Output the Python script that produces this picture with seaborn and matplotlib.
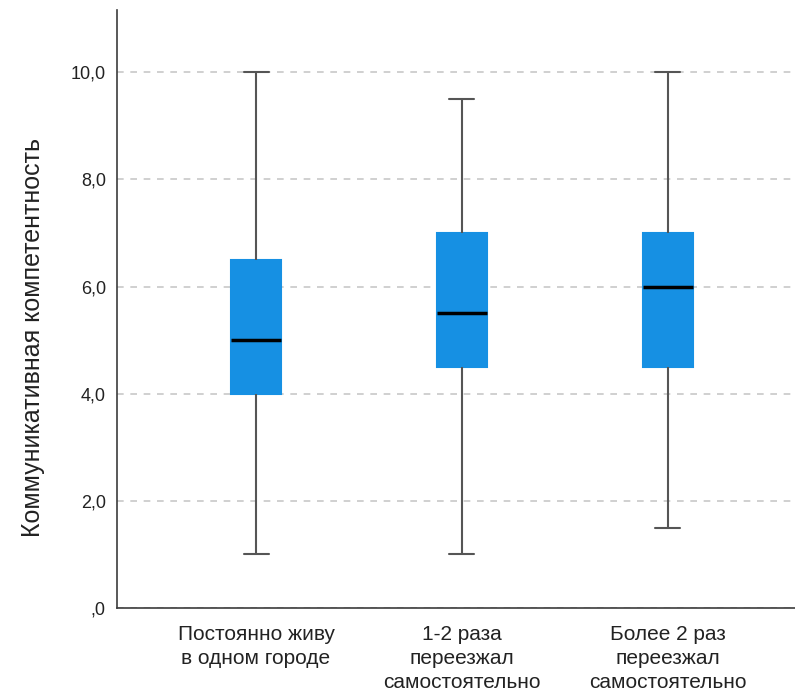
import numpy as np
import pandas as pd
import matplotlib
matplotlib.use("Agg")
import matplotlib.pyplot as plt
import seaborn as sns
from matplotlib.ticker import FuncFormatter

groups = ["Постоянно живу\nв одном городе",
          "1-2 раза\nпереезжал\nсамостоятельно",
          "Более 2 раз\nпереезжал\nсамостоятельно"]
# min, Q1, median, Q3, max
g1 = [1.0, 4.0, 5.0, 6.5, 10.0]
g2 = [1.0, 4.5, 5.5, 7.0, 9.5]
g3 = [1.5, 4.5, 6.0, 7.0, 10.0]
y_ticks = [0, 2, 4, 6, 8, 10]
y_label = "Коммуникативная компетентность"

df = pd.DataFrame({"group": np.repeat(groups, 5), "value": g1 + g2 + g3})

sns.set_style("white")
plt.rcParams["font.family"] = ["Liberation Sans", "DejaVu Sans"]

fig = plt.figure(figsize=(7.95, 6.91), dpi=100)
ax = fig.add_axes([0.1472, 0.1201, 0.8528, 0.8654])

box_color = "#1690e3"
sns.boxplot(data=df, x="group", y="value", order=groups, whis=(0, 100),
            width=0.243, color=box_color, saturation=1, linecolor="#555555",
            linewidth=1.5, showfliers=False,
            medianprops=dict(color="black", linewidth=2.5), ax=ax)
for p in ax.patches:
    p.set_edgecolor(box_color)

ax.set_xlim(-0.675, 2.617)
ax.set_ylim(0, 11.16)
ax.set_yticks(y_ticks)
ax.yaxis.set_major_formatter(FuncFormatter(
    lambda v, pos: ",0" if v == 0 else f"{v:.1f}".replace(".", ",")))
ax.yaxis.grid(True, linestyle=(0, (4, 4)), color="#c8c8c8", linewidth=1.2)
ax.set_axisbelow(True)

sns.despine(ax=ax)
for s in ["left", "bottom"]:
    ax.spines[s].set_color("#3c3c3c")
    ax.spines[s].set_linewidth(1.2)

ax.tick_params(axis="both", length=0)
ax.tick_params(axis="y", labelsize=13, pad=8, colors="#222222")
ax.tick_params(axis="x", labelsize=15, pad=12, colors="#222222")
for t in ax.get_xticklabels():
    t.set_linespacing(1.35)
ax.set_xlabel("")
ax.set_ylabel(y_label, fontsize=18, color="#222222")
ax.yaxis.set_label_coords(-0.106, 0.453)

fig.savefig("out.png", dpi=100)
